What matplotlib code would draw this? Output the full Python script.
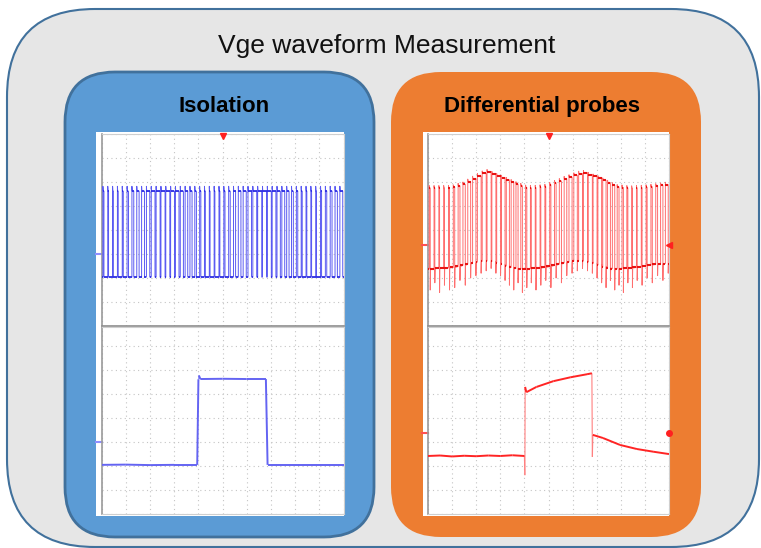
import numpy as np
import matplotlib.pyplot as plt
from matplotlib.patches import FancyBboxPatch, Rectangle
from matplotlib.collections import LineCollection

plt.rcParams["font.family"] = ["Liberation Sans", "DejaVu Sans"]

W, H = 761, 548

# ---- data (scope divisions: x 0..10, y centred on 0) ----
# PWM gate pulses, same switching pattern seen by both probes
pwm_rise = [0.05, 0.25, 0.45, 0.65, 0.85, 1.05, 1.25, 1.45, 1.65, 1.85,
            2.05, 2.25, 2.45, 2.65, 2.85, 3.05, 3.25, 3.45, 3.65, 3.85,
            4.05, 4.25, 4.45, 4.65, 4.85, 5.05, 5.25, 5.45, 5.65, 5.85,
            6.05, 6.25, 6.45, 6.65, 6.85, 7.05, 7.25, 7.45, 7.65, 7.85,
            8.05, 8.25, 8.45, 8.65, 8.85, 9.05, 9.25, 9.45, 9.65, 9.85]
pwm_width = [0.043, 0.033, 0.030, 0.033, 0.043, 0.058, 0.076, 0.097, 0.119, 0.138,
             0.154, 0.165, 0.170, 0.168, 0.160, 0.147, 0.129, 0.108, 0.087, 0.067,
             0.050, 0.037, 0.031, 0.031, 0.037, 0.049, 0.066, 0.087, 0.108, 0.128,
             0.146, 0.160, 0.168, 0.170, 0.165, 0.154, 0.138, 0.119, 0.098, 0.076,
             0.058, 0.043, 0.033, 0.030, 0.033, 0.043, 0.057, 0.076, 0.097, 0.118]

# isolation probe, long time base
iso_high = 1.62
iso_low = -1.96
iso_peak = 1.82

# differential probe, long time base (per pulse levels)
diff_high = [1.75, 1.75, 1.75, 1.75, 1.75, 1.78, 1.84, 1.90, 2.02, 2.14,
             2.25, 2.36, 2.42, 2.34, 2.25, 2.18, 2.09, 2.00, 1.91, 1.84,
             1.77, 1.75, 1.76, 1.78, 1.80, 1.88, 1.96, 2.04, 2.13, 2.20,
             2.28, 2.35, 2.38, 2.30, 2.23, 2.16, 2.07, 1.97, 1.87, 1.79,
             1.77, 1.75, 1.74, 1.75, 1.76, 1.78, 1.80, 1.83, 1.86, 1.89]
diff_low = [-1.62, -1.61, -1.60, -1.60, -1.58, -1.56, -1.52, -1.47, -1.42, -1.37,
            -1.33, -1.30, -1.29, -1.31, -1.36, -1.43, -1.50, -1.56, -1.60, -1.62,
            -1.62, -1.61, -1.60, -1.58, -1.56, -1.52, -1.47, -1.42, -1.37, -1.33,
            -1.30, -1.28, -1.29, -1.33, -1.39, -1.46, -1.53, -1.58, -1.61, -1.62,
            -1.61, -1.60, -1.58, -1.56, -1.53, -1.49, -1.46, -1.43, -1.41, -1.40]
diff_spike = [-2.5, -2.2, -2.6, -2.3, -2.5, -2.4, -2.1, -2.3, -2.0, -1.9,
              -1.8, -1.7, -1.6, -1.8, -1.9, -2.1, -2.3, -2.5, -2.2, -2.6,
              -2.4, -2.2, -2.5, -2.3, -2.1, -2.4, -2.0, -2.2, -1.9, -1.8,
              -1.7, -1.6, -1.7, -1.8, -2.0, -2.2, -2.4, -2.1, -2.5, -2.3,
              -2.6, -2.2, -2.4, -2.1, -2.3, -2.0, -2.2, -1.9, -2.1, -1.8]

# single pulse, zoomed time base
iso_zoom_t = [0.0, 1.0, 2.0, 3.0, 3.95, 4.0, 4.02, 4.08, 5.0, 6.0, 6.79, 6.86, 8.0, 10.0]
iso_zoom_v = [-1.95, -1.94, -1.96, -1.95, -1.95, 1.62, 1.78, 1.63, 1.64, 1.63, 1.63, -1.95, -1.95, -1.95]

diff_zoom_t = [0.0, 0.5, 1.0, 1.5, 2.0, 2.5, 3.0, 3.5, 4.0, 4.02, 4.03, 4.08, 4.5, 5.2,
               5.9, 6.6, 6.8, 6.82, 6.84, 7.26, 7.97, 8.67, 9.34, 10.0]
diff_zoom_v = [-1.58, -1.56, -1.60, -1.57, -1.59, -1.56, -1.58, -1.55, -1.58, -2.38, 1.30,
               1.08, 1.30, 1.54, 1.70, 1.83, 1.87, -1.62, -0.70, -0.83, -1.12, -1.29,
               -1.40, -1.50]

iso_ref = -1.0
diff_ref = -0.63


def pwm_trace(rise, width, high, low, spike, peak_add):
    n = len(rise)
    high, low, spike = (np.broadcast_to(np.asarray(v, float), n) for v in (high, low, spike))
    xs, ys = [0.0], [low[0]]
    for r, w, h, lo, s in zip(rise, width, high, low, spike):
        f = r + w
        xs += [r, r, r + 0.01, f, f, f + 0.01]
        ys += [lo, h + peak_add, h, h, s, lo]
    xs.append(10.0)
    ys.append(low[-1])
    return xs, ys, high, low


def draw_pwm(ax, high, low, spike, peak_add, c_thin, c_level, lw_level):
    xs, ys, hi, lo = pwm_trace(pwm_rise, pwm_width, high, low, spike, peak_add)
    ax.plot(xs, ys, color=c_thin, lw=0.7, zorder=3)
    fall = np.array(pwm_rise) + np.array(pwm_width)
    ax.hlines(hi, pwm_rise, fall, color=c_level, lw=lw_level, zorder=4)
    starts = np.r_[0.0, fall]
    ends = np.r_[pwm_rise, 10.0]
    ax.hlines(np.r_[lo, lo[-1]], starts, ends, color=c_level, lw=lw_level, zorder=4)


def draw_step(ax, t, v, c_edge, c_flat, lw_flat):
    # fast edges drawn thin, flat parts thicker (like the scope persistence)
    pts = np.column_stack([t, v])
    segs = np.stack([pts[:-1], pts[1:]], axis=1)
    fast = np.diff(t) < 0.03
    ax.add_collection(LineCollection(segs[fast], colors=c_edge, linewidths=0.8, zorder=3))
    ax.add_collection(LineCollection(segs[~fast], colors=c_flat, linewidths=lw_flat, zorder=4))


def scope_axes(fig, x, y, w, h, ylim):
    ax = fig.add_axes([x / W, 1 - (y + h) / H, w / W, h / H])
    ax.set_facecolor("white")
    ax.set_xlim(0, 10)
    ax.set_ylim(*ylim)
    ax.set_xticks(range(0, 11))
    ax.set_yticks(range(int(np.ceil(ylim[0])), int(np.floor(ylim[1])) + 1))
    ax.grid(True, color="#c4c4c4", lw=0.8, ls=(0, (1, 3)))
    ax.set_axisbelow(True)
    ax.tick_params(length=0, labelbottom=False, labelleft=False)
    for s in ax.spines.values():
        s.set_color("#cfcfcf")
        s.set_linewidth(0.8)
    ax.spines["left"].set_color("#9a9a9a")
    ax.spines["left"].set_linewidth(1.2)
    return ax


fig = plt.figure(figsize=(W / 100, H / 100), dpi=100)
fig.patch.set_facecolor("white")

bg = fig.add_axes([0, 0, 1, 1])
bg.set_xlim(0, W)
bg.set_ylim(H, 0)
bg.set_axis_off()

bg.add_patch(FancyBboxPatch((7, 9), 752, 538, boxstyle="round,pad=0,rounding_size=88",
                            fc="#e6e6e6", ec="#41719c", lw=1.5))
bg.add_patch(FancyBboxPatch((65, 72), 309, 465, boxstyle="round,pad=0,rounding_size=50",
                            fc="#5b9bd5", ec="#41719c", lw=2))
bg.add_patch(FancyBboxPatch((391, 72), 310, 465, boxstyle="round,pad=0,rounding_size=50",
                            fc="#ed7d31", ec="none"))
# scope screens
bg.add_patch(Rectangle((96, 132), 248, 384, fc="white", ec="none"))
bg.add_patch(Rectangle((423, 132), 246, 384, fc="white", ec="none"))

bg.text(387, 53, "Vge waveform Measurement", ha="center", va="baseline", fontsize=19, color="#111111")
bg.text(224, 112, "Isolation", ha="center", va="baseline", fontsize=16, fontweight="bold")
bg.text(542, 112, "Differential probes", ha="center", va="baseline", fontsize=16, fontweight="bold")

# isolation scope
ax1 = scope_axes(fig, 101.7, 134, 241.8, 192, (-4, 4))
ax2 = scope_axes(fig, 101.7, 327, 241.8, 187, (-4, 3.8))
# differential scope
ax3 = scope_axes(fig, 428, 134, 241, 192, (-4, 4))
ax4 = scope_axes(fig, 428, 327, 241, 187, (-4, 3.8))

for ax in (ax1, ax3):
    ax.spines["bottom"].set_color("#8c8c8c")
    ax.spines["bottom"].set_linewidth(1.2)
    ax.plot([5], [3.9], marker="v", color="#ff2020", ms=5, clip_on=False, zorder=6)

draw_pwm(ax1, iso_high, iso_low, iso_low, iso_peak - iso_high, "#5a5af2", "#2a2ae0", 1.2)
draw_pwm(ax3, diff_high, diff_low, diff_spike, 0.1, "#ff6e6e", "#e81414", 1.5)

draw_step(ax2, iso_zoom_t, iso_zoom_v, "#9a9af8", "#6464f2", 1.4)
draw_step(ax4, diff_zoom_t, diff_zoom_v, "#ff8080", "#ff2424", 1.4)

for ax in (ax1, ax2):
    ax.plot([-0.23, 0], [iso_ref, iso_ref], color="#8f8fff", lw=1.5, clip_on=False)
for ax in (ax3, ax4):
    ax.plot([-0.23, 0], [diff_ref, diff_ref], color="#ff5050", lw=1.5, clip_on=False)
ax3.plot([10], [diff_ref], marker="<", color="#ff2020", ms=4, clip_on=False, zorder=6)
ax4.plot([10], [diff_ref], marker="o", color="#ff2020", ms=4, clip_on=False, zorder=6)

fig.savefig("out.png", dpi=100)
